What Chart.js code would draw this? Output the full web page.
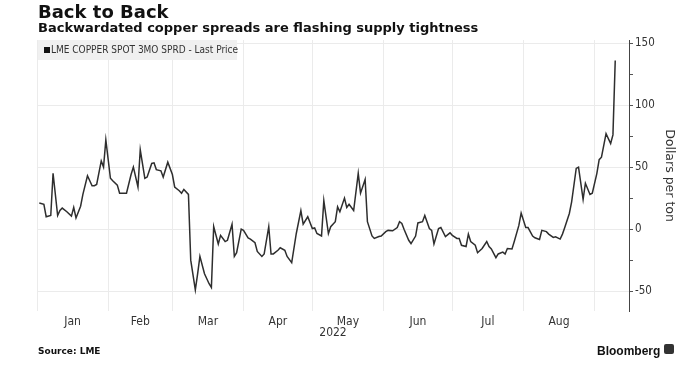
<!DOCTYPE html>
<html>
<head>
<meta charset="utf-8">
<script src="https://cdn.jsdelivr.net/npm/chart.js@4/dist/chart.umd.min.js"></script>
<style>
  html, body { margin:0; padding:0; background:#fff; }
  #wrap { position:relative; width:689px; height:368px; overflow:hidden; background:#fff; }
  canvas { position:absolute; left:0; top:0; }
  .txt { position:absolute; white-space:nowrap; line-height:1; }
  #title { left:38px; top:1px; font:bold 18px "DejaVu Sans"; color:#111; }
  #subtitle { left:38px; top:19.5px; font:bold 13px "DejaVu Sans"; color:#111; }
  #legend { position:absolute; left:38px; top:40px; width:199px; height:20px; background:#f0f0f0; }
  #legend .sq { position:absolute; left:6px; top:7px; width:6px; height:6px; background:#111; }
  #legend .lt { position:absolute; left:13px; top:5px; font:10px "DejaVu Sans Condensed"; color:#333; white-space:nowrap; line-height:1; }
  #source { left:38px; top:346px; font:bold 9px "DejaVu Sans"; color:#111; }
  #bbg { left:597px; top:344px; font:bold 12px "Liberation Sans"; color:#111; }
  #bbgicon { position:absolute; left:664px; top:344px; width:10px; height:10px; background:#333; border-radius:2px; }
</style>
</head>
<body>
<div id="wrap">
  <canvas id="c" width="689" height="368"></canvas>
  <div id="title" class="txt">Back to Back</div>
  <div id="subtitle" class="txt">Backwardated copper spreads are flashing supply tightness</div>
  <div id="legend"><div class="sq"></div><div class="lt">LME COPPER SPOT 3MO SPRD - Last Price</div></div>
  <div id="source" class="txt">Source: LME</div>
  <div id="bbg" class="txt">Bloomberg</div>
  <div id="bbgicon"></div>
</div>
<script>
// Days since 1 Jan 2022 (0 = Jan 1)
const dayOfYear = [1,3,4,6,7,9,10,11,13,15,16,17,19,20,22,24,25,26,28,29,30,32,33,35,36,38,39,41,42,44,45,47,48,50,51,52,54,55,57,59,60,62,63,64,66,67,69,70,71,73,75,76,77,79,80,82,83,85,86,87,89,90,92,93,95,96,98,99,101,102,103,105,106,108,109,111,113,115,116,118,120,121,122,124,125,127,128,130,131,132,134,135,136,138,140,141,143,144,146,147,149,150,152,153,155,157,158,159,160,162,163,165,166,168,169,171,172,173,175,176,178,180,181,183,184,185,187,188,189,191,192,194,196,197,198,200,201,203,204,205,207,208,210,211,213,214,216,217,219,220,222,223,225,226,228,229,230,232,233,235,236,238,239,241,242,244,245,246,248,250,251,252];
// LME copper cash-to-3-month spread, dollars per ton
const spread = [21,20,10,11,45,11,15,17,14,10.5,17.5,9,18.5,28,43,35,35,36,55,50,72,41,39,35.5,29,29,29,44,50,34,64,41,42,53,53.5,48,47,42,54,44,34,31,29,32,28,-25,-49,-36,-22,-36,-44,-47,2,-12,-5,-10,-9,4,-22,-19,0,-1,-7,-8,-11,-18,-22,-20,2,-20,-20,-17,-15,-17,-22,-27,-3.5,15,4,10,0.5,1,-3.5,-5.5,23,-3.5,2,6,18,14,25,17.5,20,15,45,29,40,6,-5.5,-7.5,-6,-5.5,-2,-1,-1.3,1.3,6,4.6,-0.3,-9,-11.6,-5.6,5,6,11,0.5,-1,-12,0.5,1.3,-6,-3,-5,-7.5,-7.5,-13,-14,-4,-10,-13,-19,-15.6,-10,-14,-16,-23,-20,-18.5,-20,-15.6,-16,-10,3,13,1.3,1.3,-5.6,-7,-8.3,-1,-2,-4,-6.7,-6.2,-8,-4,1.3,12.6,22,49,50,24,37,28,29,45,56,58,77,69,76,136];
// Month boundaries (gridlines) and labels
const monthStarts = [0,31,59,90,120,151,181,212,243];
const monthLabels = ['Jan','Feb','Mar','Apr','May','Jun','Jul','Aug'];
const yearLabel = '2022';
const yMajorTicks = [-50,0,50,100,150];
const yMinorTicks = [-25,25,75,125];

const points = dayOfYear.map((d,i)=>({x:d, y:spread[i]}));
const monthMids = monthLabels.map((_,i)=>(monthStarts[i]+monthStarts[i+1])/2);
const xTickVals = monthStarts.concat(monthMids).sort((a,b)=>a-b);
const yTickVals = yMajorTicks.concat(yMinorTicks).sort((a,b)=>a-b);

new Chart(document.getElementById('c'), {
  type: 'line',
  data: { datasets: [{
    label: 'LME COPPER SPOT 3MO SPRD - Last Price',
    data: points,
    borderColor: '#2e2e2e',
    borderWidth: 1.5,
    pointRadius: 0,
    tension: 0,
    fill: false
  }]},
  options: {
    responsive: false,
    animation: false,
    layout: { padding: { left: 37, top: 40, right: 0, bottom: 0 } },
    plugins: { legend: { display:false }, tooltip: { enabled:false } },
    scales: {
      x: {
        type: 'linear', position: 'bottom', min: 0, max: 258,
        afterBuildTicks: s => { s.ticks = xTickVals.map(v=>({value:v})); },
        afterFit: s => { s.height = 57; },
        grid: {
          drawTicks: false,
          color: c => monthStarts.includes(c.tick && c.tick.value) ? '#ebebeb' : 'rgba(0,0,0,0)',
          lineWidth: 1
        },
        border: { display: false },
        ticks: {
          autoSkip: false, maxRotation: 0, padding: 4,
          color: '#333', font: { family: 'DejaVu Sans Condensed', size: 12 },
          callback: v => { const i = monthMids.indexOf(v); return i >= 0 ? monthLabels[i] : ''; }
        },
        title: { display: true, text: yearLabel, color:'#333',
          font: { family: 'DejaVu Sans Condensed', size: 12 }, padding: { top:0, bottom: 28 } }
      },
      y: {
        type: 'linear', position: 'right', min: -66, max: 152.5,
        afterBuildTicks: s => { s.ticks = yTickVals.map(v=>({value:v})); },
        afterFit: s => { s.width = 60; },
        grid: {
          drawTicks: true, tickLength: 4,
          color: c => yMajorTicks.includes(c.tick && c.tick.value) ? '#ebebeb' : 'rgba(0,0,0,0)',
          tickColor: '#555'
        },
        border: { display: true, color: '#444', width: 1 },
        ticks: {
          padding: 2, color: '#333', font: { family: 'DejaVu Sans Condensed', size: 11.5 },
          callback: v => yMajorTicks.includes(v) ? String(v) : ''
        },
        title: { display: true, text: 'Dollars per ton', color:'#333',
          font: { family: 'DejaVu Sans', size: 12.5 }, padding: { top: 12, bottom: 0 } }
      }
    }
  }
});
</script>
</body>
</html>
